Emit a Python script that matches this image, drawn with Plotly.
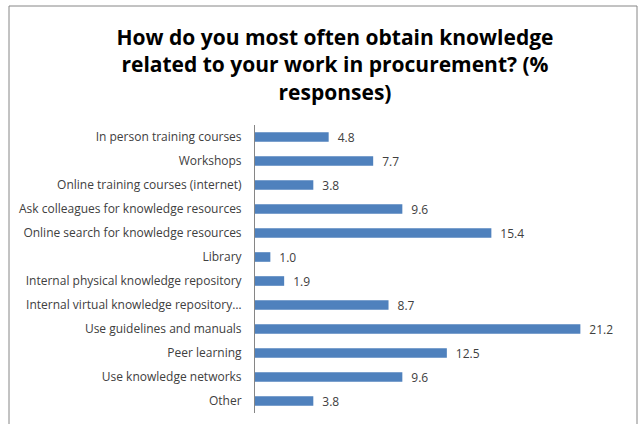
import plotly.graph_objects as go

categories = [
    "In person training courses",
    "Workshops",
    "Online training courses (internet)",
    "Ask colleagues for knowledge resources",
    "Online search for knowledge resources",
    "Library",
    "Internal physical knowledge repository",
    "Internal virtual knowledge repository…",
    "Use guidelines and manuals",
    "Peer learning",
    "Use knowledge networks",
    "Other",
]
values = [4.8, 7.7, 3.8, 9.6, 15.4, 1.0, 1.9, 8.7, 21.2, 12.5, 9.6, 3.8]
value_labels = ["\u2002" + f"{v:.1f}" for v in values]

FONT = "Open Sans"
W, H = 643, 424
L, R, T, B = 255, 35, 125, 11
pw = W - L - R
ph = H - T - B

fig = go.Figure(go.Bar(
    y=categories, x=values, orientation="h",
    marker=dict(color="#4F81BD", line=dict(width=0)),
    text=value_labels, textposition="outside", constraintext="none",
    textfont=dict(family=FONT, size=12, color="#404040"),
    cliponaxis=False, width=0.4, hoverinfo="skip",
))

def px_to_paper_x(px):
    return (px - L) / pw

def px_to_paper_y(py):
    return (H - B - py) / ph

fig.update_layout(
    width=W, height=H,
    margin=dict(l=L, r=R, t=T, b=B, autoexpand=False),
    paper_bgcolor="white", plot_bgcolor="white",
    showlegend=False,
    title=dict(
        text="How do you most often obtain knowledge<br>related to your work in procurement? (%<br>responses)",
        x=335 / W, xanchor="center", y=1 - 45 / H, yanchor="top",
        font=dict(family=FONT, size=21, color="#000000", weight="bold"),
    ),
    xaxis=dict(range=[0, 23], visible=False, fixedrange=True, automargin=False),
    yaxis=dict(
        autorange="reversed", showline=True, linecolor="#868686", linewidth=1,
        ticks="", showgrid=False, zeroline=False, automargin=False, fixedrange=True,
        tickfont=dict(family=FONT, size=12, color="#404040"),
        ticklabelstandoff=10,
    ),
    shapes=[dict(
        type="rect", xref="paper", yref="paper",
        x0=px_to_paper_x(9), x1=px_to_paper_x(637),
        y0=px_to_paper_y(440), y1=px_to_paper_y(6),
        line=dict(color="#868686", width=1), fillcolor="rgba(0,0,0,0)",
        layer="below",
    )],
)

fig.write_html(
    "out.html",
    config={"displayModeBar": False},
    post_script="document.body.style.margin='0';document.body.style.overflow='hidden';",
)
